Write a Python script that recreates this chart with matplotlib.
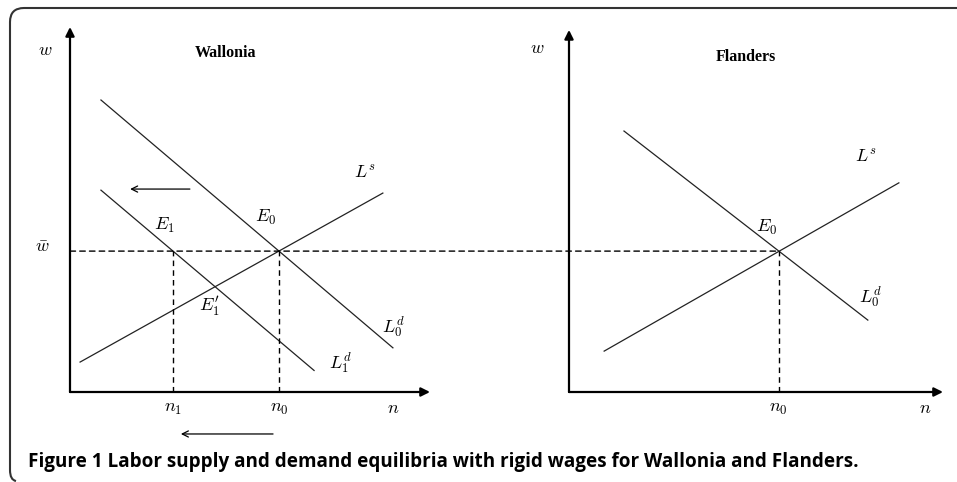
import matplotlib.pyplot as plt
from matplotlib.patches import ConnectionPatch, PathPatch
from matplotlib.path import Path

plt.rcParams['mathtext.fontset'] = 'cm'

# --- data (diagram units, origin at each panel's axes corner) ---
w_bar = 3.86

# Wallonia
wal_n0, wal_n1 = 5.81, 2.86
wal_ld0_x, wal_ld0_y = [0.86, 8.97], [8.00, 1.21]
wal_ld1_x, wal_ld1_y = [0.86, 6.78], [5.53, 0.59]
wal_ls_x, wal_ls_y = [0.28, 8.69], [0.82, 5.45]
wal_shift_top = [(3.33, 5.56), (1.67, 5.56)]       # (from, to)
wal_shift_bottom = [(5.64, -1.15), (3.08, -1.15)]

# Flanders
fla_n0 = 5.61
fla_ld0_x, fla_ld0_y = [1.47, 7.99], [7.15, 1.97]
fla_ls_x, fla_ls_y = [0.94, 8.82], [1.12, 5.73]

wal_labels = [(r'$w$', -0.69, 9.37), (r'$\bar{w}$', -0.78, 3.97),
              (r'$E_1$', 2.61, 4.55), (r'$E_0$', 5.44, 4.77),
              (r"$E_1'$", 3.86, 2.36), (r'$L^s$', 8.19, 5.97),
              (r'$L_0^d$', 8.97, 1.80), (r'$L_1^d$', 7.50, 0.80),
              (r'$n_1$', wal_n1, -0.44), (r'$n_0$', wal_n0, -0.44),
              (r'$n$', 8.97, -0.44)]
fla_labels = [(r'$w$', -0.86, 9.42), (r'$E_0$', 5.27, 4.52),
              (r'$L^s$', 7.94, 6.41), (r'$L_0^d$', 8.05, 2.60),
              (r'$n_0$', fla_n0, -0.44), (r'$n$', 9.52, -0.44)]

fig = plt.figure(figsize=(9.57, 4.82), dpi=100)
ax1 = fig.add_axes([70 / 957, 90 / 482, 360 / 957, 365 / 482])
ax2 = fig.add_axes([569 / 957, 90 / 482, 374 / 957, 365 / 482])

axis_arrow = dict(arrowstyle='-|>', lw=1.6, color='black', mutation_scale=13,
                  shrinkA=0, shrinkB=0)
shift_arrow = dict(arrowstyle='->', lw=0.9, color='black', mutation_scale=11,
                   shrinkA=0, shrinkB=0)
dash = (0, (4, 3))

for ax, ytop in [(ax1, 10), (ax2, 9.92)]:
    ax.set_xlim(0, 10)
    ax.set_ylim(0, 10)
    ax.axis('off')
    ax.annotate('', xy=(0, ytop), xytext=(0, 0), arrowprops=axis_arrow,
                annotation_clip=False)
    ax.annotate('', xy=(10, 0), xytext=(0, 0), arrowprops=axis_arrow,
                annotation_clip=False)

# Wallonia curves
ax1.plot(wal_ld0_x, wal_ld0_y, color='#222', lw=0.9)
ax1.plot(wal_ld1_x, wal_ld1_y, color='#222', lw=0.9)
ax1.plot(wal_ls_x, wal_ls_y, color='#222', lw=0.9)
ax1.plot([wal_n1, wal_n1], [0, w_bar], color='black', lw=1, ls=dash)
ax1.plot([wal_n0, wal_n0], [0, w_bar], color='black', lw=1, ls=dash)
for start, end in [wal_shift_top, wal_shift_bottom]:
    ax1.annotate('', xy=end, xytext=start, arrowprops=shift_arrow,
                 annotation_clip=False)

# Flanders curves
ax2.plot(fla_ld0_x, fla_ld0_y, color='#222', lw=0.9)
ax2.plot(fla_ls_x, fla_ls_y, color='#222', lw=0.9)
ax2.plot([fla_n0, fla_n0], [0, w_bar], color='black', lw=1, ls=dash)

# rigid wage line across both panels
con = ConnectionPatch(xyA=(0, w_bar), coordsA=ax1.transData,
                      xyB=(fla_n0, w_bar), coordsB=ax2.transData,
                      color='black', lw=1, linestyle=dash)
fig.add_artist(con)

for ax, labels in [(ax1, wal_labels), (ax2, fla_labels)]:
    for txt, x, y in labels:
        ax.text(x, y, txt, fontsize=13, ha='center', va='center')

ax1.text(4.31, 9.29, 'Wallonia', family='Liberation Serif', weight='bold',
         fontsize=11.5, ha='center', va='center')
ax2.text(4.73, 9.18, 'Flanders', family='Liberation Serif', weight='bold',
         fontsize=11.5, ha='center', va='center')

# caption
fig.text(28 / 957, 1 - 462 / 482,
         'Figure 1 Labor supply and demand equilibria with rigid wages for Wallonia and Flanders.',
         family='Open Sans', weight='bold', fontsize=13.6, ha='left', va='center')

# frame: top edge and left edge with rounded corners
def fp(px, py):
    return (px / 957, 1 - py / 482)

verts = [fp(957, 8), fp(24, 8), fp(10, 8), fp(10, 22), fp(10, 470), fp(10, 480), fp(16, 481)]
codes = [Path.MOVETO, Path.LINETO, Path.CURVE3, Path.CURVE3, Path.LINETO, Path.CURVE3, Path.CURVE3]
frame = PathPatch(Path(verts, codes), transform=fig.transFigure, fill=False,
                  edgecolor='#333', lw=1.5)
fig.add_artist(frame)

fig.savefig('out.png', dpi=100)
